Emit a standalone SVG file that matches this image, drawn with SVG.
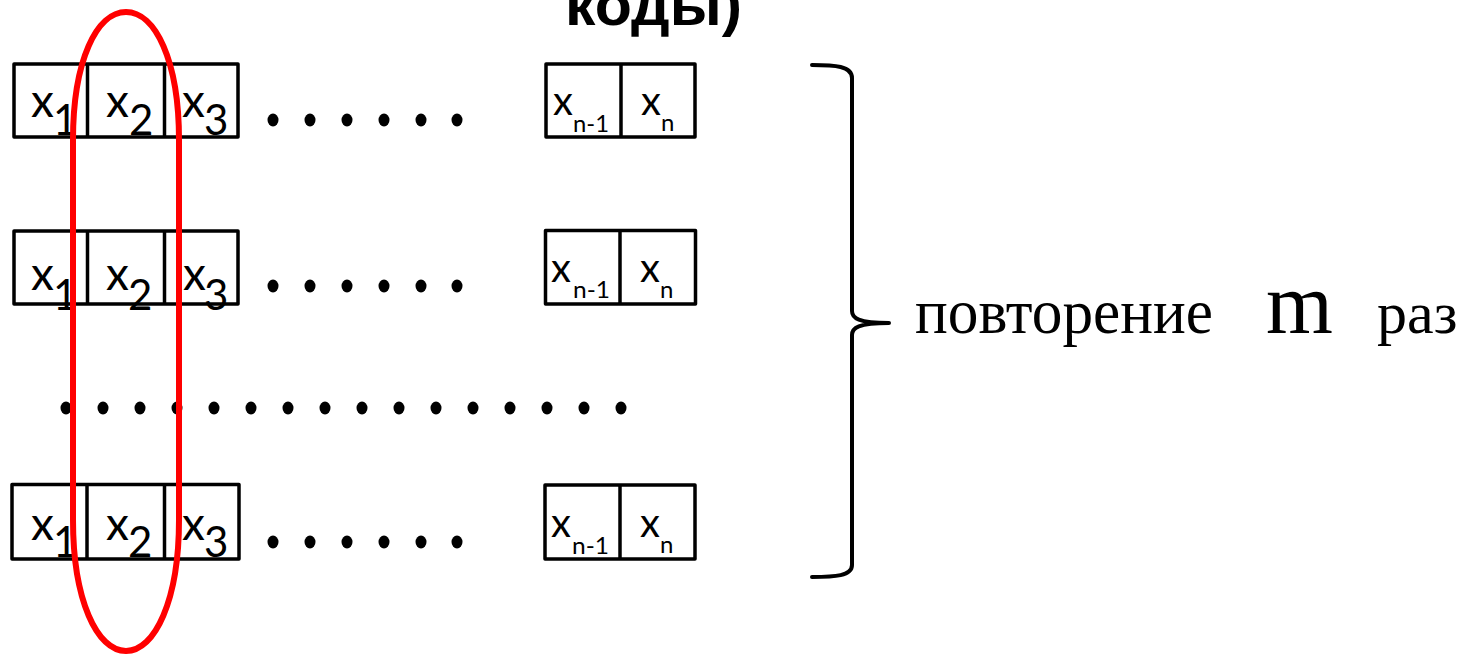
<svg xmlns="http://www.w3.org/2000/svg" width="1473" height="655" viewBox="0 0 1473 655">
<style>
.box{fill:#fff;stroke:#000;stroke-width:3.5;stroke-linejoin:round}
.div{stroke:#000;stroke-width:3.5}
.xl{font-family:Lato,"Open Sans",sans-serif;font-size:46px;fill:#000}
.sl{font-family:Lato,"Open Sans",sans-serif;font-size:42px;fill:#000}
.xr{font-family:Lato,"Open Sans",sans-serif;font-size:40px;fill:#000}
.sr{font-family:Lato,"Open Sans",sans-serif;font-size:24px;fill:#000}
.dot{fill:#000}
.tnr{font-family:"Liberation Serif","Times New Roman",serif;fill:#000}
</style>
<defs>
<ellipse id="d" rx="5.5" ry="6.5"/>
</defs>
<rect width="1473" height="655" fill="#fff"/>
<text id="title" x="565" y="25" font-family="'Liberation Sans',Arial,sans-serif" font-weight="bold" font-size="60" textLength="177" lengthAdjust="spacingAndGlyphs">коды)</text>

<g id="row1-left">
<rect class="box" x="14" y="64" width="224" height="73"/>
<line class="div" x1="87.5" y1="64" x2="87.5" y2="137"/>
<line class="div" x1="164.5" y1="64" x2="164.5" y2="137"/>
<text class="xl" x="31" y="117">x</text><text class="sl" x="53" y="135">1</text>
<text class="xl" x="106" y="117">x</text><text class="sl" x="129" y="135">2</text>
<text class="xl" x="182" y="117">x</text><text class="sl" x="204" y="135">3</text>
</g>
<g id="row1-right">
<rect class="box" x="546" y="64" width="149" height="73"/>
<line class="div" x1="621" y1="64" x2="621" y2="137"/>
<text class="xr" x="553" y="115">x</text><text class="sr" x="573" y="132" textLength="36" lengthAdjust="spacingAndGlyphs">n-1</text>
<text class="xr" x="641" y="115">x</text><text class="sr" x="661" y="131">n</text>
</g>
<g id="row1-dots" class="dot">
<use href="#d" x="273" y="120"/><use href="#d" x="310" y="120"/><use href="#d" x="347" y="120"/><use href="#d" x="384" y="120"/><use href="#d" x="421" y="120"/><use href="#d" x="457" y="120"/>
</g>

<g id="row2-left">
<rect class="box" x="14" y="231" width="224" height="73"/>
<line class="div" x1="87.5" y1="231" x2="87.5" y2="304"/>
<line class="div" x1="164.5" y1="231" x2="164.5" y2="304"/>
<text class="xl" x="31" y="290">x</text><text class="sl" x="53" y="310">1</text>
<text class="xl" x="106" y="290">x</text><text class="sl" x="128" y="310">2</text>
<text class="xl" x="183" y="290">x</text><text class="sl" x="204" y="310">3</text>
</g>
<g id="row2-right">
<rect class="box" x="545.5" y="230.5" width="150" height="73.5"/>
<line class="div" x1="620" y1="230.5" x2="620" y2="304"/>
<text class="xr" x="551" y="282">x</text><text class="sr" x="573" y="298" textLength="37" lengthAdjust="spacingAndGlyphs">n-1</text>
<text class="xr" x="640" y="282">x</text><text class="sr" x="660" y="298">n</text>
</g>
<g id="row2-dots" class="dot">
<use href="#d" x="273" y="286"/><use href="#d" x="310" y="286"/><use href="#d" x="347" y="286"/><use href="#d" x="384" y="286"/><use href="#d" x="421" y="286"/><use href="#d" x="457" y="286"/>
</g>

<g id="middle-dots" class="dot">
<use href="#d" x="66" y="408"/><use href="#d" x="103" y="408"/><use href="#d" x="140" y="408"/><use href="#d" x="177" y="408"/><use href="#d" x="214" y="408"/><use href="#d" x="251" y="408"/><use href="#d" x="288" y="408"/><use href="#d" x="325" y="408"/><use href="#d" x="362" y="408"/><use href="#d" x="399" y="408"/><use href="#d" x="436" y="408"/><use href="#d" x="473" y="408"/><use href="#d" x="510" y="408"/><use href="#d" x="547" y="408"/><use href="#d" x="584" y="408"/><use href="#d" x="621" y="408"/>
</g>

<g id="row3-left">
<rect class="box" x="12" y="484.5" width="227" height="74.5"/>
<line class="div" x1="87" y1="484.5" x2="87" y2="559"/>
<line class="div" x1="164.5" y1="484.5" x2="164.5" y2="559"/>
<text class="xl" x="31" y="540">x</text><text class="sl" x="53" y="557">1</text>
<text class="xl" x="106" y="540">x</text><text class="sl" x="128" y="557">2</text>
<text class="xl" x="182" y="540">x</text><text class="sl" x="204" y="557">3</text>
</g>
<g id="row3-right">
<rect class="box" x="545" y="485" width="150" height="74"/>
<line class="div" x1="620" y1="485" x2="620" y2="559"/>
<text class="xr" x="551" y="537">x</text><text class="sr" x="572" y="554" textLength="37" lengthAdjust="spacingAndGlyphs">n-1</text>
<text class="xr" x="640" y="537">x</text><text class="sr" x="660" y="553">n</text>
</g>
<g id="row3-dots" class="dot">
<use href="#d" x="273" y="542"/><use href="#d" x="310" y="542"/><use href="#d" x="347" y="542"/><use href="#d" x="384" y="542"/><use href="#d" x="421" y="542"/><use href="#d" x="457" y="542"/>
</g>

<g id="column-highlight">
<path d="M126,12 C155,12 179,60 179,140 L179,520 C179,600 155,651 126,651 C97,651 73,600 73,520 L73,140 C73,60 97,12 126,12 Z" fill="none" stroke="#ff0000" stroke-width="6"/>
</g>

<g id="connectors">
<path id="brace" d="M812,65 C835,65 852,66 852,78 L852,311 C852,318 858,323 889,323 C858,323 852,328 852,335 L852,565 C852,576 835,577 812,577" fill="none" stroke="#000" stroke-width="4" stroke-linecap="round" stroke-linejoin="round"/>
</g>

<g id="label">
<text class="tnr" x="915" y="333" font-size="64" textLength="298" lengthAdjust="spacingAndGlyphs">повторение</text>
<text class="tnr" x="1266" y="333" font-size="86">m</text>
<text class="tnr" x="1377" y="333" font-size="60">раз</text>
</g>
</svg>
